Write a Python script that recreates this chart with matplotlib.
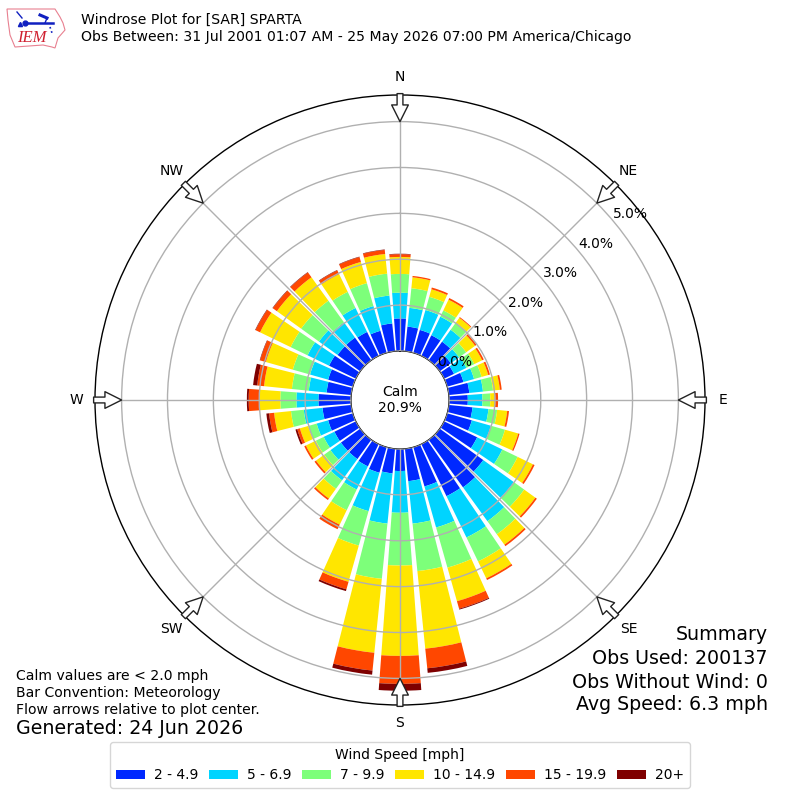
import numpy as np
import matplotlib
matplotlib.use("Agg")
import matplotlib.pyplot as plt
from matplotlib.patches import Polygon

# directions the bars point to, degrees clockwise from north
directions = np.arange(0, 360, 10)

# percent of obs per speed bin, one value per direction
s_2_5 = [.71, .54, .52, .50, .50, .30, .24, .37, .45, .41, .52, .56, .80, 1.17, 1.28, 1.26, .89, .71,
         .48, .54, .58, .54, .52, .52, .52, .56, .63, .71, .54, .56, .65, .61, .61, .58, .50, .61]
s_5_7 = [.56, .41, .45, .45, .32, .22, .30, .24, .30, .32, .35, .43, .61, .82, .91, 1.00, .93, .93,
         .91, 1.10, .87, .56, .57, .28, .26, .26, .41, .48, .39, .41, .52, .50, .41, .58, .56, .61]
s_7_10 = [.41, .43, .30, .15, .19, .19, .19, .17, .22, .17, .19, .32, .37, .28, .35, .58, .91, 1.04,
          1.15, 1.21, .78, .50, .23, .17, .19, .19, .28, .35, .37, .39, .41, .48, .58, .39, .52, .48]
s_10_15 = [.37, .24, .17, .26, .13, .24, .19, .15, .15, .11, .22, .30, .37, .30, .28, .41, .76, 1.70,
           1.97, 1.62, .82, .35, .26, .22, .24, .19, .37, .45, .61, .61, .74, .65, .63, .43, .48, .43]
s_15_20 = [.06, .03, .04, .04, .02, .04, .04, .04, .04, .06, .04, .03, .04, .04, .04, .04, .17, .43,
           .61, .39, .17, .11, .04, .04, .04, .06, .11, .24, .15, .13, .11, .11, .13, .09, .11, .09]
s_20 = [.01, 0, 0, 0, 0, 0, 0, 0, 0, 0, 0, 0, 0, 0, 0, 0, .02, .10,
        .15, .09, .04, 0, 0, 0, 0, .04, .06, .04, .09, .01, .01, .01, .01, .01, .01, .01]

bins = [s_2_5, s_5_7, s_7_10, s_10_15, s_15_20, s_20]
bin_labels = ["2 - 4.9", "5 - 6.9", "7 - 9.9", "10 - 14.9", "15 - 19.9", "20+"]
bin_colors = ["#0028ff", "#00d4ff", "#7dff7a", "#ffe600", "#ff4700", "#7f0000"]

compass = ["N", "NE", "E", "SE", "S", "SW", "W", "NW"]
compass_deg = [0, 45, 90, 135, 180, 225, 270, 315]
r_ticks = [0, 1, 2, 3, 4, 5]
r_top = 5.58

fig = plt.figure(figsize=(8, 8), dpi=100)
ax = fig.add_axes([95 / 800, 95 / 800, 610 / 800, 610 / 800], projection="polar")
ax.set_theta_zero_location("N")
ax.set_theta_direction(-1)

theta = np.deg2rad(directions)
base = np.zeros(len(directions))
handles = []
for vals, lab, col in zip(bins, bin_labels, bin_colors):
    h = ax.bar(theta, vals, width=np.deg2rad(8.4), bottom=base, color=col, label=lab, linewidth=0)
    handles.append(h)
    base = base + np.array(vals)

ax.set_rorigin(-1.068)
ax.set_ylim(0, r_top)
ax.set_axisbelow(False)
ax.grid(True, color="#b0b0b0", lw=1)
ax.set_rgrids(r_ticks, labels=["%.1f%%" % v for v in r_ticks], angle=50, fontsize=10, ha="left", va="bottom")
ax.set_thetagrids(compass_deg, labels=compass, fontsize=10)
ax.tick_params(axis="x", pad=2.6)
ax.spines["polar"].set_linewidth(1)

# flow arrows, outer circle in to the 5% ring
for deg in compass_deg:
    ax.annotate("", xy=(np.deg2rad(deg), 5.0), xytext=(np.deg2rad(deg), r_top + 0.03),
                arrowprops=dict(facecolor="white", edgecolor="#222222", width=4.2, headwidth=12,
                                headlength=12, shrink=0, lw=1), annotation_clip=False, zorder=5)

fig.text(0.5, 0.5, "Calm\n20.9%", ha="center", va="center", fontsize=10, linespacing=1.15)

# header and notes
fig.text(81 / 800, 1 - 20 / 800, "Windrose Plot for [SAR] SPARTA", fontsize=10.05, va="center")
fig.text(81 / 800, 1 - 37 / 800, "Obs Between: 31 Jul 2001 01:07 AM - 25 May 2026 07:00 PM America/Chicago",
         fontsize=10.05, va="center")
fig.text(16 / 800, 1 - 676 / 800, "Calm values are < 2.0 mph", fontsize=10.1, va="center")
fig.text(16 / 800, 1 - 693 / 800, "Bar Convention: Meteorology", fontsize=10.1, va="center")
fig.text(16 / 800, 1 - 710 / 800, "Flow arrows relative to plot center.", fontsize=10.1, va="center")
fig.text(16 / 800, 1 - 729 / 800, "Generated: 24 Jun 2026", fontsize=13.7, va="center")

summary = ["Summary", "Obs Used: 200137", "Obs Without Wind: 0", "Avg Speed: 6.3 mph"]
for y, s in zip([635, 659, 682, 705], summary):
    fig.text(768 / 800, 1 - y / 800, s, fontsize=13.65, ha="right", va="center")

fig.legend(handles=handles, labels=bin_labels, title="Wind Speed [mph]", ncol=6, loc="center",
           bbox_to_anchor=(0.5, 1 - 765 / 800), fontsize=10, title_fontsize=10,
           columnspacing=0.75, handletextpad=0.65, handlelength=2.1)

# IEM logo, rough redraw in pixel coords
logo = fig.add_axes([0, 1 - 60 / 800, 120 / 800, 60 / 800])
logo.set_xlim(0, 120)
logo.set_ylim(60, 0)
logo.axis("off")
iowa_x = [7, 55, 60, 63, 65, 58, 55, 52, 43, 15, 10, 8]
iowa_y = [9, 9, 17, 23, 30, 38, 48, 47, 45, 47, 35, 20]
logo.add_patch(Polygon(np.column_stack([iowa_x, iowa_y]), closed=True, fill=False, ec="#e88090", lw=0.8))
logo.plot([25, 53], [23, 23], color="#1020c0", lw=1.8)
logo.plot([25], [23], "o", color="#1020c0", ms=3.5)
logo.plot([20], [24], "^", color="#1020c0", ms=3)
logo.plot([17, 22], [12, 18], color="#1020c0", lw=1)
logo.plot([40, 47], [15, 18], color="#1020c0", lw=2.2)
logo.plot([47, 45], [18, 23], color="#1020c0", lw=1)
logo.plot([50, 52], [27, 33], color="#1020c0", lw=1.2, ls=":")
logo.text(17, 38.5, "IEM", fontsize=12, family="Liberation Serif", style="italic", color="#d02030", va="center")

fig.savefig("out.png", dpi=100)
